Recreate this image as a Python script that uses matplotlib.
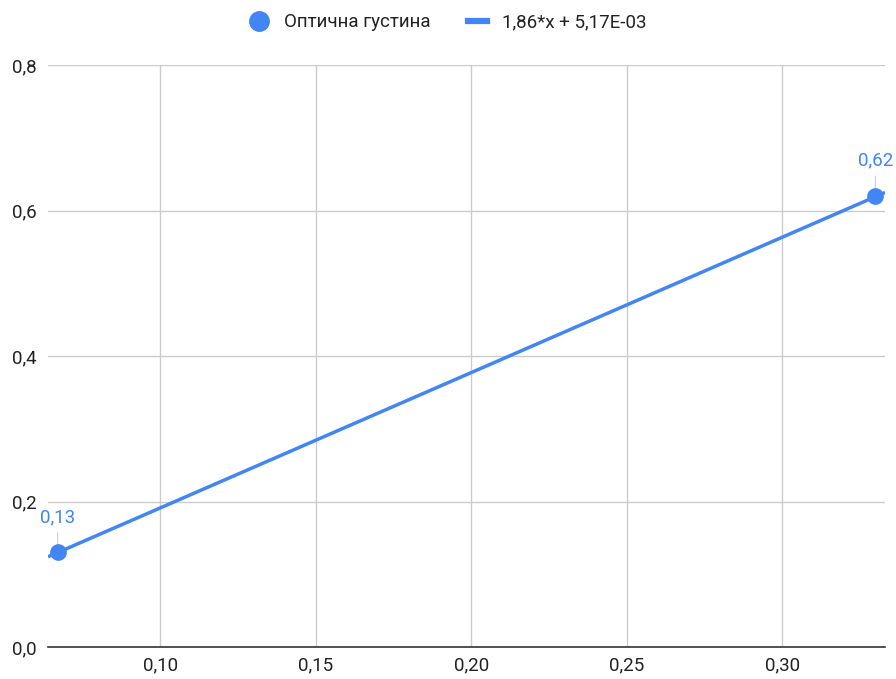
import matplotlib
matplotlib.use("Agg")
import matplotlib.pyplot as plt
import numpy as np
from matplotlib.lines import Line2D

x_vals = [0.067, 0.33]
y_vals = [0.13, 0.62]
labels = ["0,13", "0,62"]
slope = 1.86
intercept = 5.17e-3
series_name = "Оптична густина"
trend_name = "1,86*x + 5,17E-03"
xticks = [0.10, 0.15, 0.20, 0.25, 0.30]
yticks = [0.0, 0.2, 0.4, 0.6, 0.8]

plt.rcParams['font.family'] = ['Roboto', 'DejaVu Sans']
blue = "#4285F4"

fig = plt.figure(figsize=(8.96, 6.79), dpi=100)
ax = fig.add_axes([48/896, 1-647/679, (885-48)/896, (647-65)/679])

xmin, xmax = 0.0639, 0.3331
ax.set_xlim(xmin, xmax)
ax.set_ylim(0, 0.8)

xs = np.array([xmin, xmax])
ax.plot(xs, slope*xs + intercept, color=blue, lw=2.5, zorder=3, solid_capstyle='butt')
ax.plot(x_vals, y_vals, 'o', color=blue, ms=11, zorder=4, clip_on=False)

for x, y, t in zip(x_vals, y_vals, labels):
    ax.annotate("", xy=(x, y), xytext=(0, 16), textcoords='offset points',
                arrowprops=dict(arrowstyle='-', color='#cccccc', lw=0.8), zorder=2)
    ax.annotate(t, xy=(x, y), xytext=(0, 19), textcoords='offset points',
                ha='center', va='bottom', color=blue, fontsize=13.5)

ax.set_xticks(xticks)
ax.set_yticks(yticks)
ax.set_xticklabels([f"{v:.2f}".replace('.', ',') for v in xticks])
ax.set_yticklabels([f"{v:.1f}".replace('.', ',') for v in yticks])
ax.grid(True, color='#cccccc', lw=1)
ax.set_axisbelow(True)
for s in ['top', 'right', 'left']:
    ax.spines[s].set_visible(False)
ax.spines['bottom'].set_color('#333333')
ax.spines['bottom'].set_linewidth(1.2)
ax.tick_params(length=0, labelsize=13.5, labelcolor='#222222', pad=7)
ax.tick_params(axis='y', pad=8)

handles = [Line2D([], [], marker='o', ls='none', color=blue, ms=14),
           Line2D([], [], color=blue, lw=4.5)]
fig.legend(handles, [series_name, trend_name], loc='upper center',
           bbox_to_anchor=(0.5, 1.005), ncol=2, frameon=False, fontsize=13.5,
           handlelength=1.0, columnspacing=2.0, handletextpad=0.8,
           labelcolor='#222222')

fig.savefig("out.png", dpi=100)
